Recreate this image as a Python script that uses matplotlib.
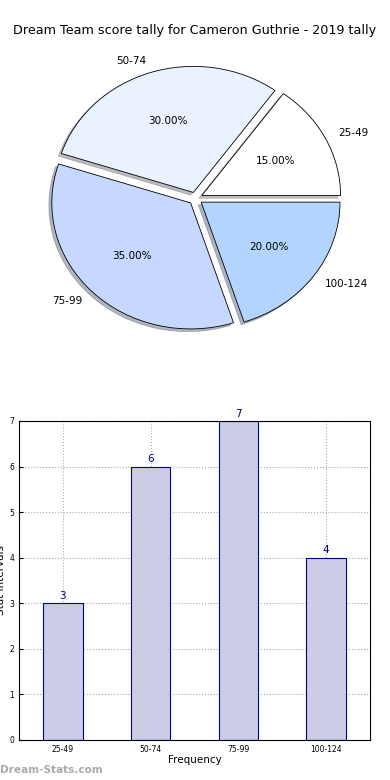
import matplotlib.pyplot as plt

title = "Dream Team score tally for Cameron Guthrie - 2019 tally"
intervals = ["25-49", "50-74", "75-99", "100-124"]
counts = [3, 6, 7, 4]
pie_colors = ["#ffffff", "#eaf1ff", "#c6d8ff", "#b3d4ff"]

fig = plt.figure(figsize=(3.9, 7.8), dpi=100)
fig.text(0.5, 0.961, title, ha="center", va="center", fontsize=9.2)

# pie
ax1 = fig.add_axes([0.0564, 0.5436, 0.89, 0.404])
wedges, texts, autotexts = ax1.pie(
    counts,
    labels=intervals,
    colors=pie_colors,
    explode=[0.05] * len(counts),
    autopct="%1.2f%%",
    shadow={"ox": -0.015, "oy": -0.015, "shade": 0.5},
    startangle=0,
    wedgeprops={"edgecolor": "black", "linewidth": 0.6},
    textprops={"fontsize": 7.5},
)
ax1.set_aspect("auto")
ax1.set_xlim(-1.25, 1.25)
ax1.set_ylim(-1.25, 1.25)

# bars
ax2 = fig.add_axes([0.0487, 0.0513, 0.9, 0.409])
x = range(len(intervals))
bars = ax2.bar(x, counts, width=0.45, color="#ccccE6", edgecolor="#00008b", linewidth=0.8, zorder=2)
for xi, c in zip(x, counts):
    ax2.text(xi, c + 0.05, str(c), ha="center", va="bottom", color="#00008b", fontsize=7.5)
ax2.set_xlim(-0.5, 3.5)
ax2.set_ylim(0, 7)
ax2.set_xticks(list(x))
ax2.set_xticklabels(intervals)
ax2.tick_params(labelsize=5.5, direction="in", length=3)
ax2.grid(True, linestyle=":", color="#aaaaaa", linewidth=0.8, zorder=0)
ax2.set_axisbelow(True)
ax2.set_xlabel("Frequency", fontsize=7.5, labelpad=1)
ax2.set_ylabel("Stat Intervals", fontsize=7.5, labelpad=2)

fig.text(0.0, 0.013, "Dream-Stats.com", color="#aaaaaa", fontsize=7.6, fontweight="bold", ha="left", va="center")

fig.savefig("out.png", dpi=100)
